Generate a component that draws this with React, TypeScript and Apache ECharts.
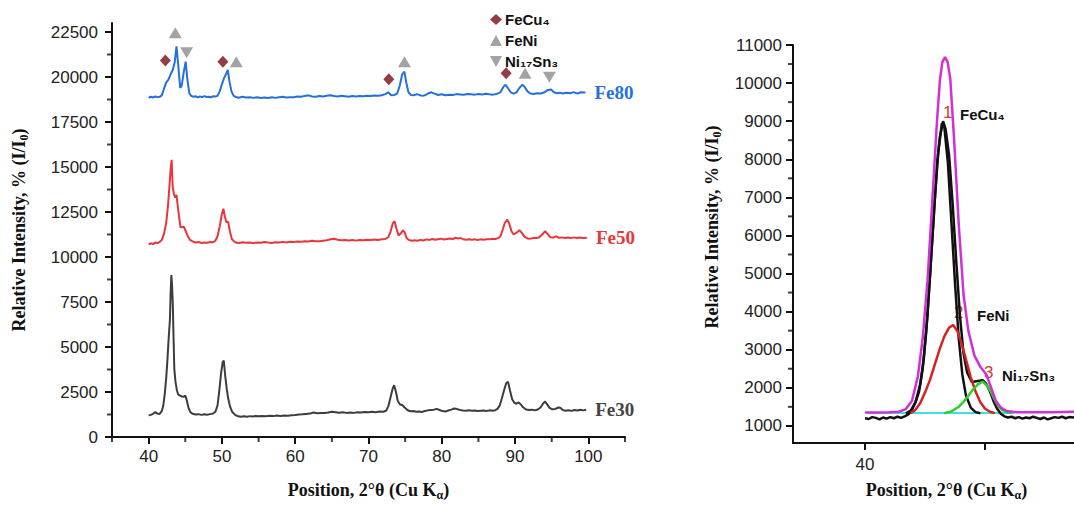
import React, { useEffect, useRef } from "react";
import * as echarts from "echarts";

// ---------- Left panel data: XRD patterns [2θ, intensity] ----------
const fe30: [number, number][] = [
  [40.0,1200],[40.3,1230],[40.6,1290],[40.9,1380],[41.2,1300],[41.5,1280],[41.8,1450],[42.0,1750],[42.2,2400],[42.4,3300],[42.55,4200],[42.75,5600],[42.9,6500],[43.0,8000],[43.1,9000],[43.2,8400],[43.3,7300],[43.4,5500],[43.5,3800],[43.65,3100],[43.85,2600],[44.05,2350],[44.3,2300],[44.55,2250],[44.8,2230],[45.0,2300],[45.2,2050],[45.45,1600],[45.7,1380],[46.0,1290],[46.4,1250],[46.8,1270],[47.2,1230],[47.6,1260],[48.0,1240],[48.4,1270],[48.8,1300],[49.1,1400],[49.4,1750],[49.65,2600],[49.9,3600],[50.1,4150],[50.25,4250],[50.45,3400],[50.65,2700],[50.85,2150],[51.1,1700],[51.4,1400],[51.8,1230],[52.2,1150],[52.6,1120],[53.0,1150],[53.4,1130],[53.8,1160],[54.2,1140],[54.6,1170],[55.0,1150],
  [55.5,1170],[56,1150],[56.5,1180],[57,1160],[57.5,1190],[58,1170],[58.5,1200],[59,1180],[59.5,1210],[60,1220],[60.5,1250],[61,1260],[61.5,1280],[62,1300],[62.5,1360],[63,1320],[63.5,1340],[64,1330],[64.5,1360],[65,1400],[65.5,1380],[66,1350],[66.5,1370],[67,1340],[67.5,1360],[68,1340],[68.5,1380],[69,1360],[69.5,1390],[70,1370],[70.5,1400],[71,1380],[71.5,1420],[72,1400],[72.4,1460],[72.7,1700],[73.0,2200],[73.3,2700],[73.5,2880],[73.75,2500],[74.0,2000],[74.3,1800],[74.6,1780],[74.9,1650],[75.3,1500],[75.7,1430],[76.1,1440],[76.5,1400],[76.9,1420],[77.3,1390],[77.7,1450],[78.1,1480],[78.5,1500],[78.9,1520],[79.3,1560],[79.7,1500],[80.1,1440],[80.5,1420],[80.9,1470],[81.3,1520],[81.7,1580],[82.1,1550],[82.5,1500],[82.9,1470],[83.3,1460],[83.7,1490],[84.1,1460],[84.5,1470],[84.9,1440],[85.3,1460],[85.7,1470],[86.1,1450],[86.5,1480],[86.9,1460],[87.3,1490],[87.6,1560],[87.9,1740],[88.2,2150],[88.5,2600],[88.8,3000],[89.05,3060],[89.3,2600],[89.6,2100],[89.9,1900],[90.2,1850],[90.5,1920],[90.8,1800],[91.1,1650],[91.5,1530],[91.9,1500],[92.3,1520],[92.7,1480],[93.1,1530],[93.5,1650],[93.8,1850],[94.1,1970],[94.4,1800],[94.7,1620],[95.1,1540],[95.5,1560],[95.9,1640],[96.2,1620],[96.5,1500],[96.9,1460],[97.3,1490],[97.7,1450],[98.1,1500],[98.5,1470],[98.9,1510],[99.3,1480],[99.7,1510]
];

const fe50: [number, number][] = [
  [40.0,10700],[40.3,10760],[40.6,10720],[40.9,10800],[41.2,10780],[41.5,10830],[41.8,10950],[42.1,11300],[42.4,11900],[42.65,12900],[42.85,14000],[43.0,14900],[43.14,15400],[43.28,13900],[43.45,13500],[43.62,13300],[43.8,13450],[43.95,12900],[44.15,12250],[44.35,11650],[44.55,11650],[44.8,11680],[45.05,11450],[45.35,11150],[45.65,10950],[46.0,10870],[46.4,10800],[46.8,10830],[47.2,10780],[47.6,10810],[48.0,10790],[48.4,10830],[48.8,10820],[49.1,10900],[49.4,11150],[49.7,11700],[49.95,12300],[50.2,12680],[50.4,12250],[50.6,11950],[50.85,11950],[51.1,11400],[51.35,11000],[51.65,10870],[52.0,10790],
  [52.4,10780],[52.8,10820],[53.3,10790],[53.8,10800],[54.3,10770],[54.8,10810],[55.3,10790],[55.8,10830],[56.3,10800],[56.8,10780],[57.3,10820],[57.8,10800],[58.3,10840],[58.8,10810],[59.3,10850],[59.8,10830],[60.3,10860],[60.8,10850],[61.3,10880],[61.8,10860],[62.3,10900],[62.8,10880],[63.3,10870],[63.8,10900],[64.3,10930],[64.8,10990],[65.3,11010],[65.8,10960],[66.3,10930],[66.8,10950],[67.3,10920],[67.8,10940],[68.3,10910],[68.8,10950],[69.3,10930],[69.8,10960],[70.3,10940],[70.8,10970],[71.3,10950],[71.8,10980],[72.3,11000],[72.7,11100],[73.0,11400],[73.3,11850],[73.55,11990],[73.8,11600],[74.1,11200],[74.4,11300],[74.7,11490],[74.95,11350],[75.2,11050],[75.5,10950],[75.9,10900],[76.3,10930],[76.7,10900],[77.1,10950],[77.5,10920],[77.9,10980],[78.3,10950],[78.7,11000],[79.1,10960],[79.5,10990],[79.9,11020],[80.3,10970],[80.7,11000],[81.1,11030],[81.5,11000],[81.9,11070],[82.2,11020],[82.5,11060],[82.9,10990],[83.3,10960],[83.7,10990],[84.1,10960],[84.5,10980],[84.9,10950],[85.3,10980],[85.7,10960],[86.1,10990],[86.5,10980],[86.9,11010],[87.3,11000],[87.7,11050],[88.0,11150],[88.3,11500],[88.6,11900],[88.95,12080],[89.2,11850],[89.5,11450],[89.8,11250],[90.2,11350],[90.6,11490],[90.9,11350],[91.3,11120],[91.7,11030],[92.1,11020],[92.5,11060],[92.9,11050],[93.3,11100],[93.7,11250],[94.1,11430],[94.4,11300],[94.8,11100],[95.2,11080],[95.6,11150],[96.0,11070],[96.4,11090],[96.8,11060],[97.2,11080],[97.6,11050],[98.0,11090],[98.4,11060],[98.8,11080],[99.2,11060],[99.8,11070]
];

const fe80: [number, number][] = [
  [40.0,18850],[40.3,18900],[40.6,18860],[40.9,18920],[41.2,18880],[41.5,18900],[41.8,18980],[42.1,19350],[42.4,19700],[42.7,19850],[43.0,20150],[43.3,20400],[43.55,20800],[43.8,21700],[44.05,20600],[44.3,19400],[44.5,19500],[44.8,20300],[45.05,20850],[45.3,19800],[45.55,19100],[45.8,18950],[46.1,18900],[46.4,18930],[46.7,18870],[47.0,18920],[47.3,18880],[47.6,18940],[47.9,18890],[48.2,18900],[48.5,18870],[48.8,18930],[49.1,18920],[49.4,18950],[49.7,19200],[50.0,19600],[50.3,19950],[50.55,20150],[50.8,20400],[51.05,19700],[51.3,19200],[51.6,18950],[51.9,18890],
  [52.3,18850],[52.8,18900],[53.3,18860],[53.8,18880],[54.3,18840],[54.8,18870],[55.3,18830],[55.8,18860],[56.3,18830],[56.8,18870],[57.3,18840],[57.8,18880],[58.3,18900],[58.8,18860],[59.3,18880],[59.8,18870],[60.3,18920],[60.8,18900],[61.3,18950],[61.8,18980],[62.3,18920],[62.8,18900],[63.3,18940],[63.8,18920],[64.3,18960],[64.8,18990],[65.3,18940],[65.8,18920],[66.3,18960],[66.8,18930],[67.3,18900],[67.8,18940],[68.3,18920],[68.8,18950],[69.3,18930],[69.8,18960],[70.3,18940],[70.8,18970],[71.3,18960],[71.8,18990],[72.3,19050],[72.7,19150],[73.1,18990],[73.5,19000],[73.9,19080],[74.25,19500],[74.6,20150],[74.9,20300],[75.15,19700],[75.45,19150],[75.8,19000],[76.2,18980],[76.6,19050],[77,18990],[77.4,18950],[77.8,19000],[78.2,19100],[78.6,19150],[79,19080],[79.5,19000],[80,19040],[80.5,18990],[81,19020],[81.5,19000],[82,19050],[82.5,19030],[83,19010],[83.5,19060],[84,19040],[84.5,19020],[85,19060],[85.5,19030],[86,19070],[86.5,19040],[87,19020],[87.5,19060],[88,19150],[88.4,19450],[88.7,19570],[89,19400],[89.4,19150],[89.8,19080],[90.2,19150],[90.6,19400],[91,19580],[91.3,19450],[91.7,19200],[92.1,19080],[92.5,19060],[93,19100],[93.5,19080],[94,19150],[94.5,19280],[94.9,19300],[95.3,19150],[95.7,19100],[96.1,19130],[96.5,19080],[97,19120],[97.5,19100],[98,19160],[98.5,19080],[99,19150],[99.6,19140]
];

// phase markers above the Fe80 pattern
const feCu4Marks: [number, number][] = [[42.28,20910],[50.13,20854],[72.77,19879],[88.78,20212]];
const feNiMarks: [number, number][] = [[43.64,22462],[51.96,20854],[74.91,20854],[91.37,20212]];
const ni17Sn3Marks: [number, number][] = [[45.18,21353],[94.68,19990]];

const leftXTicks = [40, 50, 60, 70, 80, 90, 100];
const leftXMinor = [35, 45, 55, 65, 75, 85, 95, 105];
const leftYTicks = [0, 2500, 5000, 7500, 10000, 12500, 15000, 17500, 20000, 22500];
const leftYMinor = [1250, 3750, 6250, 8750, 11250, 13750, 16250, 18750, 21250];

// ---------- Right panel data: deconvolution of the main peak ----------
const measured: [number, number][] = [
  [40.0,1200],[40.15,1180],[40.3,1230],[40.45,1210],[40.6,1170],[40.75,1220],[40.9,1190],[41.05,1230],[41.2,1200],[41.35,1240],[41.5,1210],[41.65,1250],[41.8,1300],[41.95,1420],[42.1,1620],[42.25,1900],[42.4,2500],[42.55,3500],[42.7,4900],[42.85,6400],[43.0,7900],[43.12,8600],[43.25,9000],[43.35,8800],[43.5,8100],[43.65,6800],[43.8,5300],[43.95,3900],[44.1,2900],[44.25,2400],[44.45,2150],[44.7,2180],[44.9,2200],[45.05,2100],[45.2,1900],[45.35,1650],[45.5,1450],[45.65,1320],[45.8,1250],[45.95,1220],[46.1,1240],[46.25,1200],[46.4,1230],[46.55,1190],[46.7,1220],[46.85,1200],[47.0,1240],[47.15,1210],[47.3,1180],[47.45,1220],[47.6,1170],[47.75,1200],[47.9,1230],[48.05,1210],[48.2,1240],[48.35,1200],[48.5,1230],[48.7,1220]
];
const peakFeCu4: [number, number][] = [
  [41.7,1330],[41.9,1400],[42.1,1620],[42.3,2100],[42.45,2800],[42.6,3900],[42.75,5400],[42.9,6900],[43.05,8200],[43.2,8950],[43.3,8850],[43.45,7900],[43.6,6300],[43.75,4700],[43.9,3300],[44.05,2350],[44.2,1800],[44.4,1480],[44.6,1360],[44.8,1330]
];
const peakFeNi: [number, number][] = [
  [41.9,1340],[42.1,1420],[42.3,1600],[42.5,1880],[42.7,2200],[42.9,2600],[43.1,3000],[43.3,3350],[43.5,3580],[43.67,3650],[43.85,3480],[44.0,3200],[44.2,2750],[44.4,2280],[44.6,1900],[44.8,1620],[45.0,1450],[45.2,1370],[45.4,1335]
];
const peakNi17Sn3: [number, number][] = [
  [43.3,1330],[43.6,1380],[43.9,1500],[44.1,1630],[44.3,1790],[44.5,1960],[44.7,2090],[44.9,2160],[45.1,2040],[45.25,1880],[45.4,1680],[45.55,1520],[45.7,1420],[45.9,1360],[46.1,1335]
];
const baseLine: [number, number][] = [[40.1,1340],[46.2,1340]];
const envelope: [number, number][] = [
  [40.0,1350],[40.5,1350],[41.0,1355],[41.4,1370],[41.7,1440],[41.95,1650],[42.2,2300],[42.4,3300],[42.6,4800],[42.8,6900],[43.0,9050],[43.12,10100],[43.22,10550],[43.33,10680],[43.44,10550],[43.55,10100],[43.7,8600],[43.9,6300],[44.1,4450],[44.3,3500],[44.55,2850],[44.8,2550],[45.05,2350],[45.25,2000],[45.45,1650],[45.65,1480],[45.9,1390],[46.3,1360],[47,1355],[47.8,1360],[48.7,1370]
];

const rightXTicks = [40, 45];
const rightXLabels = [40];
const rightYTicks = [1000, 2000, 3000, 4000, 5000, 6000, 7000, 8000, 9000, 10000, 11000];
const rightYMinor = [1500, 2500, 3500, 4500, 5500, 6500, 7500, 8500, 9500, 10500];

const LEFT_X_MIN = 35, LEFT_X_MAX = 105, LEFT_Y_MIN = 0, LEFT_Y_MAX = 23000;
const RIGHT_X_MIN = 37, RIGHT_X_MAX = 48.7, RIGHT_Y_MIN = 550, RIGHT_Y_MAX = 11000;

const SANS = "Liberation Sans, Arial, sans-serif";
const SERIF = "Liberation Serif, Times New Roman, serif";

const titleRich = {
  b: { fontFamily: SERIF, fontWeight: "bold", fontSize: 18, color: "#111", lineHeight: 22 },
  s: { fontFamily: SERIF, fontWeight: "bold", fontSize: 12, color: "#111", lineHeight: 13, verticalAlign: "bottom" },
};

const axisLineStyle = { lineStyle: { color: "#111", width: 2 } };
const tickStyle = { color: "#111", width: 2 };
const plain = (v: number) => String(v);
const tickLabel = { fontFamily: SANS, fontSize: 17, color: "#222", formatter: plain };

export default function App() {
  const ref = useRef<HTMLDivElement>(null);
  useEffect(() => {
    if (!ref.current) return;
    const chart = echarts.init(ref.current, undefined, { renderer: "svg" });
    const lineBase = { type: "line", showSymbol: false, symbol: "none", silent: true, z: 2 };
    const feLabel = { show: true, fontFamily: SERIF, fontWeight: "bold", fontSize: 19, distance: 9 };
    const minorY = { type: "scatter", silent: true, clip: false, symbol: "rect", symbolSize: [5, 2], symbolOffset: [-2.5, 0], itemStyle: { color: "#111" }, z: 5 };
    const minorX = { type: "scatter", silent: true, clip: false, symbol: "rect", symbolSize: [2, 5], symbolOffset: [0, 2.5], itemStyle: { color: "#111" }, z: 5 };
    const option: any = {
      animation: false,
      backgroundColor: "#fff",
      grid: [
        { left: 112, top: 23, width: 513, height: 415 },
        { left: 793, top: 45, width: 281, height: 398 },
      ],
      legend: {
        data: ["FeCu₄", "FeNi", "Ni₁₇Sn₃"],
        orient: "vertical",
        left: 485,
        top: 7,
        itemWidth: 12,
        itemHeight: 11,
        itemGap: 6,
        selectedMode: false,
        textStyle: { fontFamily: SANS, fontWeight: "bold", fontSize: 15, color: "#111", padding: [0, 0, 0, -2] },
      },
      xAxis: [
        {
          gridIndex: 0, type: "value", position: "bottom", min: LEFT_X_MIN, max: LEFT_X_MAX,
          axisLine: axisLineStyle,
          axisTick: { customValues: leftXTicks, length: 7, lineStyle: tickStyle },
          axisLabel: { ...tickLabel, customValues: leftXTicks, margin: 11 },
          splitLine: { show: false },
          name: "{b|Position, 2°θ (Cu K}{s|α}{b|)}",
          nameLocation: "middle", nameGap: 42,
          nameTextStyle: { rich: titleRich },
        },
        {
          gridIndex: 1, type: "value", position: "bottom", min: RIGHT_X_MIN, max: RIGHT_X_MAX,
          axisLine: axisLineStyle,
          axisTick: { customValues: rightXTicks, length: 7, lineStyle: tickStyle },
          axisLabel: { ...tickLabel, customValues: rightXLabels, margin: 13 },
          splitLine: { show: false },
          name: "{b|Position, 2°θ (Cu K}{s|α}{b|)}",
          nameLocation: "middle", nameGap: 36,
          nameTextStyle: { rich: titleRich, padding: [0, 0, 0, 26] },
        },
      ],
      yAxis: [
        {
          gridIndex: 0, type: "value", position: "left", min: LEFT_Y_MIN, max: LEFT_Y_MAX,
          axisLine: axisLineStyle,
          axisTick: { customValues: leftYTicks, length: 7, lineStyle: tickStyle },
          axisLabel: { ...tickLabel, customValues: leftYTicks, margin: 14 },
          splitLine: { show: false },
          name: "{b|Relative Intensity, % (I/I}{s|0}{b|)}",
          nameLocation: "middle", nameGap: 82,
          nameTextStyle: { rich: titleRich },
        },
        {
          gridIndex: 1, type: "value", position: "left", min: RIGHT_Y_MIN, max: RIGHT_Y_MAX,
          axisLine: axisLineStyle,
          axisTick: { customValues: rightYTicks, length: 7, lineStyle: tickStyle },
          axisLabel: { ...tickLabel, customValues: rightYTicks, margin: 11 },
          splitLine: { show: false },
          name: "{b|Relative Intensity, % (I/I}{s|0}{b|)}",
          nameLocation: "middle", nameGap: 70,
          nameTextStyle: { rich: titleRich, padding: [0, 0, 0, 34] },
        },
      ],
      series: [
        {
          ...lineBase, name: "Fe30", xAxisIndex: 0, yAxisIndex: 0, data: fe30,
          lineStyle: { color: "#3d3d3d", width: 2 },
          endLabel: { ...feLabel, formatter: "Fe30", color: "#444" },
        },
        {
          ...lineBase, name: "Fe50", xAxisIndex: 0, yAxisIndex: 0, data: fe50,
          lineStyle: { color: "#e8363a", width: 2 },
          endLabel: { ...feLabel, formatter: "Fe50", color: "#e8363a" },
        },
        {
          ...lineBase, name: "Fe80", xAxisIndex: 0, yAxisIndex: 0, data: fe80,
          lineStyle: { color: "#2470dd", width: 2 },
          endLabel: { ...feLabel, formatter: "Fe80", color: "#2470dd" },
        },
        {
          type: "scatter", name: "FeCu₄", xAxisIndex: 0, yAxisIndex: 0, data: feCu4Marks,
          symbol: "diamond", symbolSize: [11, 12], itemStyle: { color: "#7a0c16" }, silent: true, z: 3,
        },
        {
          type: "scatter", name: "FeNi", xAxisIndex: 0, yAxisIndex: 0, data: feNiMarks,
          symbol: "triangle", symbolSize: [13, 11], itemStyle: { color: "#8c8c8c" }, silent: true, z: 3,
        },
        {
          type: "scatter", name: "Ni₁₇Sn₃", xAxisIndex: 0, yAxisIndex: 0, data: ni17Sn3Marks,
          symbol: "path://M0,0L10,0L5,9Z", symbolSize: [13, 11], itemStyle: { color: "#8c8c8c" }, silent: true, z: 3,
        },
        // minor ticks (drawn through the axes' own scales)
        { ...minorY, name: "minorYL", xAxisIndex: 0, yAxisIndex: 0, data: leftYMinor.map((v) => [LEFT_X_MIN, v]) },
        { ...minorX, name: "minorXL", xAxisIndex: 0, yAxisIndex: 0, data: leftXMinor.map((v) => [v, LEFT_Y_MIN]) },
        { ...minorY, name: "minorYR", xAxisIndex: 1, yAxisIndex: 1, data: rightYMinor.map((v) => [RIGHT_X_MIN, v]) },
        { ...lineBase, name: "baseline", xAxisIndex: 1, yAxisIndex: 1, data: baseLine, lineStyle: { color: "#3fe0e0", width: 2 } },
        { ...lineBase, name: "measured", xAxisIndex: 1, yAxisIndex: 1, data: measured, lineStyle: { color: "#111", width: 2.5 } },
        { ...lineBase, name: "peak1", xAxisIndex: 1, yAxisIndex: 1, data: peakFeCu4, lineStyle: { color: "#111", width: 2.5 } },
        { ...lineBase, name: "peak2", xAxisIndex: 1, yAxisIndex: 1, data: peakFeNi, lineStyle: { color: "#d42222", width: 2.5 } },
        { ...lineBase, name: "peak3", xAxisIndex: 1, yAxisIndex: 1, data: peakNi17Sn3, lineStyle: { color: "#2ccf2c", width: 2.5 } },
        { ...lineBase, name: "envelope", xAxisIndex: 1, yAxisIndex: 1, data: envelope, lineStyle: { color: "#d030d8", width: 2.5 } },
      ],
      graphic: [
        { type: "text", left: 943, top: 104, style: { text: "1", fill: "#d0402e", font: "17px " + SANS } },
        { type: "text", left: 960, top: 107, style: { text: "FeCu₄", fill: "#111", font: "bold 15px " + SANS } },
        { type: "text", left: 954, top: 304, style: { text: "2", fill: "#d0402e", font: "17px " + SANS } },
        { type: "text", left: 977, top: 308, style: { text: "FeNi", fill: "#111", font: "bold 15px " + SANS } },
        { type: "text", left: 984, top: 364, style: { text: "3", fill: "#d0402e", font: "17px " + SANS } },
        { type: "text", left: 1002, top: 368, style: { text: "Ni₁₇Sn₃", fill: "#111", font: "bold 15px " + SANS } },
      ],
    };
    chart.setOption(option);
    return () => chart.dispose();
  }, []);
  return (
    <div
      ref={ref}
      style={{ position: "fixed", left: 0, top: 0, width: 1074, height: 506, background: "#fff" }}
    />
  );
}
